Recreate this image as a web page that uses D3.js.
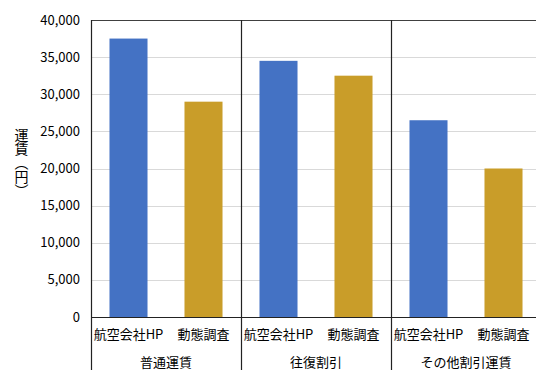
<!DOCTYPE html>
<html><head><meta charset="utf-8">
<script src="https://cdn.jsdelivr.net/npm/d3@7"></script>
<style>
body{margin:0;background:#fff;position:relative;}
svg{display:block;}
text{font-family:"Noto Sans CJK JP","Noto Sans",sans-serif;fill:#000;}
.ytitle{position:absolute;writing-mode:vertical-rl;text-orientation:mixed;
  font-family:"Noto Sans CJK JP",sans-serif;font-size:14px;line-height:14px;color:#000;white-space:nowrap;}
</style></head>
<body>
<svg id="c" width="536" height="370"></svg>
<script>
const groups = ["普通運賃","往復割引","その他割引運賃"];
const series = ["航空会社HP","動態調査"];
const airlineHP = [37500, 34500, 26500];
const survey = [29000, 32500, 20000];
const yTicks = [0,5000,10000,15000,20000,25000,30000,35000,40000];
const colors = ["#4472C4","#C99D29"];
const yTitle = "運賃（円）";

(function(){
const svg = d3.select("#c");
const pL = 91, pT = 20, pB = 317, pR = 541;
const x0 = d3.scaleBand().domain(groups).range([pL, pR]).padding(0);
const x1 = d3.scaleBand().domain(series).range([0, x0.bandwidth()]).paddingInner(0.493).paddingOuter(0.2465);
const y = d3.scaleLinear().domain([0,40000]).range([pB, pT]);

// gridlines
svg.append("g").selectAll("line").data(yTicks.filter(t=>t>0 && t<40000)).join("line")
  .attr("x1", pL).attr("x2", 536).attr("y1", d=>Math.round(y(d))+0.5).attr("y2", d=>Math.round(y(d))+0.5)
  .attr("stroke","#d9d9d9").attr("stroke-width",1);

// bars
const data = groups.map((g,i)=>({g, vals:[airlineHP[i], survey[i]]}));
const gg = svg.append("g").selectAll("g").data(data).join("g")
  .attr("transform", d=>`translate(${x0(d.g)},0)`);
gg.selectAll("rect").data(d=>d.vals.map((v,j)=>({s:series[j], v, j}))).join("rect")
  .attr("x", d=>x1(d.s)).attr("width", x1.bandwidth())
  .attr("y", d=>y(d.v)).attr("height", d=>pB - y(d.v))
  .attr("fill", d=>colors[d.j]);

// frame
svg.append("line").attr("x1",pL).attr("x2",536).attr("y1",pT+0.5).attr("y2",pT+0.5).attr("stroke","#404040").attr("stroke-width",1.2);
svg.append("line").attr("x1",pL).attr("x2",536).attr("y1",pB+0.5).attr("y2",pB+0.5).attr("stroke","#222").attr("stroke-width",1.2);
const divs = [pL, x0(groups[1]), x0(groups[2])];
svg.append("g").selectAll("line").data(divs).join("line")
  .attr("x1", d=>Math.round(d)+0.5).attr("x2", d=>Math.round(d)+0.5).attr("y1", pT).attr("y2", 370)
  .attr("stroke","#222").attr("stroke-width",1.2);

// y tick labels
const fmt = d3.format(",");
svg.append("g").selectAll("text").data(yTicks).join("text")
  .attr("x", 80).attr("y", d=>y(d)).attr("dy","0.35em").attr("text-anchor","end")
  .attr("font-size", 13).text(d=>fmt(d));

// category labels
gg.selectAll("text.cat").data(series).join("text").attr("class","cat")
  .attr("x", s=>x1(s)+x1.bandwidth()/2).attr("y", 334).attr("dy","0.35em")
  .attr("text-anchor","middle").attr("font-size",13).text(s=>s);
// group labels
svg.append("g").selectAll("text").data(groups).join("text")
  .attr("x", g=>x0(g)+x0.bandwidth()/2).attr("y", 362).attr("dy","0.35em")
  .attr("text-anchor","middle").attr("font-size",13).text(g=>g);

// y title in vertical writing
d3.select("body").append("div").attr("class","ytitle")
  .style("left","14.5px").style("top","128px")
  .text(yTitle);
})();
</script>
</body></html>
